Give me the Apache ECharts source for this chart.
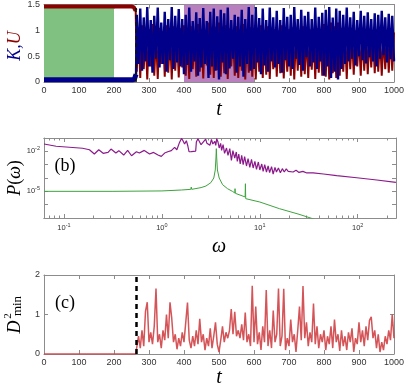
<!DOCTYPE html>
<html>
<head>
<meta charset="utf-8">
<script src="https://cdn.jsdelivr.net/npm/echarts@6/dist/echarts.min.js"></script>
<style>
html, body { margin: 0; padding: 0; background: #fff; }
#chart { width: 407px; height: 388px; }
</style>
</head>
<body>
<div id="chart"></div>
<script>
// ---- data ----
// (a) before the transition: K sits near 0, U near 1.5
var kFlat = [[0, 0.045], [252, 0.045], [258, 0.05], [261, 0.08], [263, 0.15]];
var uFlat = [[0, 1.46], [250, 1.46], [256, 1.45], [260, 1.42], [262, 1.38]];
// (a) after the transition, sampled every 5 time units from t = 265
var tStart = 265, tStep = 5;
var kValues = [
  1.30,0.35,1.42,0.22,1.25,0.40,1.45,0.30,1.20,0.18,
  1.28,0.45,1.44,0.28,1.15,0.35,1.36,0.20,1.22,0.42,
  1.45,0.25,1.28,0.38,1.41,0.30,1.22,
  0.15,1.30,0.33,1.44,0.20,1.18,0.40,1.35,0.12,1.24,
  0.28,1.43,0.35,1.18,0.08,1.36,0.30,1.42,0.22,1.27,
  0.05,1.40,0.38,1.33,0.15,1.44,0.26,1.20,0.45,1.30,
  0.18,1.26,0.30,1.40,0.10,1.22,0.35,1.45,0.22,1.30,
  0.25,1.45,0.38,1.24,0.15,1.42,0.32,1.20,0.20,1.44,
  0.40,1.25,0.28,1.38,0.35,1.20,0.18,1.43,0.42,1.26,
  0.30,1.30,0.25,1.45,0.45,1.22,0.33,1.40,0.22,1.28,
  0.48,1.36,0.30,1.22,0.38,1.44,0.25,1.26,0.40,1.34,
  0.12,1.40,0.30,1.45,0.08,1.25,0.20,1.42,0.05,1.38,
  0.25,1.30,0.35,1.44,0.40,1.25,0.45,1.36,0.32,1.20,
  0.50,1.38,0.42,1.28,0.36,1.35,0.48,1.22,0.40,1.33,
  0.30,1.30,0.45,1.38,0.52,1.25,0.38,1.32,0.44,1.28,
  0.40
];
var uValues = [
  0.20,1.05,0.08,1.10,0.25,0.95,0.05,1.02,0.30,1.12,
  0.12,0.92,0.06,1.05,0.35,0.98,0.10,1.10,0.18,0.95,
  0.05,1.08,0.22,0.96,0.09,1.04,0.28,
  1.10,0.12,1.00,0.06,1.08,0.25,0.94,0.10,1.12,0.20,
  1.02,0.07,0.98,0.32,1.15,0.14,1.03,0.08,1.07,0.23,
  1.15,0.10,0.96,0.17,1.10,0.06,1.04,0.30,0.92,0.12,
  1.08,0.08,1.00,0.22,1.12,0.05,0.98,0.18,1.06,0.10,
  1.05,0.05,0.96,0.20,1.10,0.08,1.00,0.14,1.08,0.06,
  0.95,0.25,1.02,0.10,0.98,0.17,1.10,0.07,0.94,0.20,
  1.02,0.12,1.06,0.05,0.92,0.22,1.00,0.10,1.08,0.15,
  0.90,0.08,1.02,0.24,0.96,0.06,1.05,0.18,0.95,0.12,
  1.12,0.10,1.02,0.05,1.15,0.17,1.08,0.08,1.15,0.12,
  1.05,0.20,0.98,0.06,0.95,0.25,0.92,0.14,1.00,0.30,
  0.90,0.12,0.95,0.22,0.98,0.15,0.90,0.28,0.96,0.17,
  1.02,0.20,0.92,0.12,0.88,0.25,0.98,0.18,0.94,0.22,
  0.96
];
var tTransition = 263;
var greenBox = [[0, 1.5], [200, 1.5]];
var purpleBox = [[400, 1.5], [600, 1.5]];

// (b) power spectra, read as log10(omega), log10(P)
var purpleLogW = [-1.204,-1.08,-0.81,-0.74,-0.69,-0.645,-0.60,-0.55,-0.52,-0.47,-0.44,-0.39,-0.35,-0.31,-0.26,-0.23,-0.18,-0.126,-0.085,-0.04,
  -0.006,0.028,0.06,0.096,0.13,0.153,0.18,0.20,0.215,0.232,0.25,0.265,0.277,0.30,0.317,0.345,0.352,0.368,0.386,0.40,
  0.42,0.447,0.46,0.47,0.49,0.506,0.52,0.54,0.55,0.56,0.573,0.585,0.60,0.61,0.625,0.64,0.66,0.675,0.693,0.71,
  0.725,0.744,0.76,0.77,0.785,0.80,0.815,0.83,0.845,0.864,0.88,0.898,0.915,0.932,0.95,0.966,0.985,1.00,1.02,1.034,
  1.05,1.068,1.085,1.10,1.12,1.136,1.155,1.17,1.19,1.21,1.23,1.25,1.27,1.29,1.31,1.34,1.37,1.40,1.44,1.48,
  1.545,1.65,1.785,1.99,2.195,2.39];
var purpleLogP = [-1.45,-1.62,-1.77,-1.88,-2.20,-1.88,-2.15,-2.08,-1.83,-2.13,-1.95,-2.28,-1.93,-2.33,-2.03,-2.13,-1.93,-2.20,-2.08,-2.28,
  -2.38,-2.13,-2.03,-1.95,-1.70,-1.88,-1.33,-1.03,-1.20,-1.45,-1.20,-1.60,-2.03,-2.02,-2.08,-1.98,-1.30,-1.05,-1.20,-1.50,
  -1.35,-1.08,-1.40,-1.25,-1.55,-1.10,-1.45,-1.25,-1.55,-1.05,-1.30,-1.75,-1.40,-1.93,-1.50,-2.15,-1.75,-2.30,-1.80,-2.68,
  -1.95,-2.50,-2.05,-2.75,-2.20,-2.95,-2.30,-3.00,-2.40,-3.10,-2.55,-3.20,-2.60,-3.25,-2.75,-3.35,-2.80,-3.40,-2.95,-3.50,
  -3.00,-3.55,-3.10,-3.60,-3.15,-3.70,-3.20,-3.55,-3.25,-3.60,-3.30,-3.55,-3.32,-3.50,-3.35,-3.55,-3.42,-3.58,-3.50,-3.62,
  -3.62,-3.70,-3.82,-3.98,-4.15,-4.33];
var greenLogW = [-1.204,-0.5,0,0.2,0.295,0.30,0.305,0.40,0.45,0.50,0.53,0.545,0.552,0.556,0.56,0.567,0.585,0.62,0.67,0.72,
  0.745,0.747,0.75,0.85,0.853,0.856,0.86,1.0,1.2,1.4,1.56];
var greenLogP = [-5.0,-5.0,-4.97,-4.9,-4.85,-4.68,-4.85,-4.72,-4.6,-4.35,-4.0,-3.4,-2.5,-1.8,-2.5,-3.4,-4.0,-4.5,-4.8,-5.0,
  -5.12,-4.8,-5.15,-5.42,-4.43,-5.55,-5.47,-5.8,-6.3,-6.72,-7.1];
var omegaMajor = [0.1, 1, 10, 100];
var omegaMinor = [0.07,0.08,0.09,0.2,0.3,0.4,0.5,0.6,0.7,0.8,0.9,2,3,4,5,6,7,8,9,20,30,40,50,60,70,80,90,200];
var pTicks = [1e-7, 1e-6, 1e-5, 1e-4, 1e-3, 1e-2, 1e-1];
var pLabels = [1e-5, 1e-2];

// (c) D2min, zero until the transition, then sampled like (a)
var dFlat = [[0, 0], [262, 0]];
var dValues = [
  0.05,0.45,0.15,0.60,0.20,1.08,1.31,0.30,0.55,0.25,
  0.70,1.66,0.30,0.50,0.15,0.60,0.35,1.00,0.40,1.31,
  0.90,0.30,0.50,0.12,0.40,0.20,0.55,
  0.30,0.80,1.30,0.35,0.15,0.45,0.20,0.60,0.25,0.89,
  0.30,0.50,0.10,0.40,0.20,0.65,0.15,0.45,0.80,0.25,
  0.05,0.35,0.70,0.30,0.55,0.40,0.60,1.14,0.50,1.07,
  0.45,0.60,0.40,0.75,0.35,1.05,0.30,0.50,0.20,1.73,
  0.30,1.20,0.25,0.55,0.10,0.70,0.30,1.62,0.20,0.60,
  0.15,1.10,0.30,0.50,1.66,0.20,0.45,1.65,0.10,0.40,
  0.20,0.87,0.30,0.50,0.05,0.60,1.20,0.35,1.72,0.40,
  0.80,0.20,0.55,0.30,1.28,0.25,0.70,0.15,0.50,0.30,
  0.60,0.10,0.45,0.25,0.70,0.15,0.87,0.30,0.50,0.08,
  0.60,0.20,0.45,0.10,0.55,0.30,0.65,0.05,0.40,0.25,
  0.80,0.30,0.60,0.20,0.70,0.35,0.85,0.94,0.40,0.60,
  0.15,0.50,0.05,0.30,0.10,0.45,0.25,0.60,0.35,1.00,
  0.40
];

// ---- build series data ----
function sampled(vals) {
  return vals.map(function (v, i) { return [tStart + i * tStep, v]; });
}
function fromLogs(lw, lp) {
  return lw.map(function (w, i) { return [Math.pow(10, w), Math.pow(10, lp[i])]; });
}

var gray = '#8c8c8c';
var labelColor = '#333';
var serif = '"Liberation Serif", "DejaVu Serif", serif';
var sans = '"Liberation Sans", Arial, sans-serif';

function plain(v) { return String(v); }

function linX(grid, pos, showLabel) {
  return {
    type: 'value', gridIndex: grid, position: pos, min: 0, max: 1000, interval: 100,
    axisLine: { show: true, onZero: false, lineStyle: { color: gray, width: 1 } },
    axisTick: { show: true, inside: true, length: 4, lineStyle: { color: gray } },
    axisLabel: { show: showLabel, fontSize: 9, color: labelColor, margin: 4, fontFamily: sans, formatter: plain },
    splitLine: { show: false }
  };
}
function linY(grid, pos, max, interval, showLabel) {
  return {
    type: 'value', gridIndex: grid, position: pos, min: 0, max: max, interval: interval,
    axisLine: { show: true, onZero: false, lineStyle: { color: gray, width: 1 } },
    axisTick: { show: true, inside: true, length: 4, lineStyle: { color: gray } },
    axisLabel: { show: showLabel, fontSize: 9, color: labelColor, margin: 4, fontFamily: sans, formatter: plain },
    splitLine: { show: false }
  };
}
var powRich = {
  b: { fontSize: 7.5, color: labelColor, fontFamily: sans },
  s: { fontSize: 5.5, color: labelColor, fontFamily: sans, padding: [0, 0, 6, 0] }
};
function powLabel(v) {
  return '{b|10}{s|' + Math.round(Math.log10(v)) + '}';
}
function logX(pos, ticks, len, labels) {
  return {
    type: 'log', logBase: 10, gridIndex: 1, position: pos, min: 0.0625, max: 246,
    axisLine: { show: true, onZero: false, lineStyle: { color: gray, width: 1 } },
    axisTick: { show: true, inside: true, length: len, customValues: ticks, lineStyle: { color: gray } },
    axisLabel: labels ? { show: true, customValues: labels, formatter: powLabel, rich: powRich, margin: 4 } : { show: false },
    splitLine: { show: false }
  };
}
function logY(pos, labels) {
  return {
    type: 'log', logBase: 10, gridIndex: 1, position: pos, min: 1e-7, max: 1e-1,
    axisLine: { show: true, onZero: false, lineStyle: { color: gray, width: 1 } },
    axisTick: { show: true, inside: true, length: 4, customValues: pTicks, lineStyle: { color: gray } },
    axisLabel: labels ? { show: true, customValues: labels, formatter: powLabel, rich: powRich, margin: 4 } : { show: false },
    splitLine: { show: false }
  };
}
function box(data, color) {
  return { type: 'line', xAxisIndex: 0, yAxisIndex: 0, z: 1, data: data, showSymbol: false, silent: true,
    lineStyle: { width: 0 }, areaStyle: { color: color, opacity: 1 } };
}

var chart = echarts.init(document.getElementById('chart'), null, { renderer: 'canvas' });

var option = {
  animation: false,
  backgroundColor: '#fff',
  grid: [
    { left: 44, top: 2, width: 352, height: 80 },
    { left: 44, top: 138, width: 352, height: 80 },
    { left: 44, top: 275, width: 352, height: 79 }
  ],
  xAxis: [
    linX(0, 'bottom', true), linX(0, 'top', false),
    logX('bottom', omegaMajor, 4, omegaMajor), logX('bottom', omegaMinor, 2.5, null),
    logX('top', omegaMajor, 4, null), logX('top', omegaMinor, 2.5, null),
    linX(2, 'bottom', true), linX(2, 'top', false)
  ],
  yAxis: [
    linY(0, 'left', 1.5, 0.5, true), linY(0, 'right', 1.5, 0.5, false),
    logY('left', pLabels), logY('right', null),
    linY(2, 'left', 2, 1, true), linY(2, 'right', 2, 1, false)
  ],
  series: [
    // shaded windows in (a)
    box(greenBox, '#80c080'),
    box(purpleBox, '#b980c0'),
    { name: 'U0', type: 'line', xAxisIndex: 0, yAxisIndex: 0, z: 2, data: uFlat, showSymbol: false,
      lineStyle: { color: '#8b0000', width: 4 } },
    { name: 'K0', type: 'line', xAxisIndex: 0, yAxisIndex: 0, z: 2, data: kFlat, showSymbol: false,
      lineStyle: { color: '#00008b', width: 5 } },
    { name: 'U', type: 'line', xAxisIndex: 0, yAxisIndex: 0, z: 3, data: [[262, 1.38]].concat(sampled(uValues)), showSymbol: false,
      lineStyle: { color: '#8b0000', width: 2 } },
    { name: 'K', type: 'line', xAxisIndex: 0, yAxisIndex: 0, z: 4, data: [[263, 0.15]].concat(sampled(kValues)), showSymbol: false,
      lineStyle: { color: '#00008b', width: 2.4 },
      markLine: { silent: true, symbol: 'none', label: { show: false },
        lineStyle: { color: '#111', width: 1.6, type: [4, 3] }, data: [{ xAxis: tTransition }] } },
    // (b)
    { name: 'purple', type: 'line', xAxisIndex: 2, yAxisIndex: 2, data: fromLogs(purpleLogW, purpleLogP), showSymbol: false,
      lineStyle: { color: '#8b1a8b', width: 1.2 } },
    { name: 'green', type: 'line', xAxisIndex: 2, yAxisIndex: 2, data: fromLogs(greenLogW, greenLogP), showSymbol: false,
      lineStyle: { color: '#3ea23e', width: 1 } },
    // (c)
    { name: 'D2', type: 'line', xAxisIndex: 6, yAxisIndex: 4, data: dFlat.concat(sampled(dValues)), showSymbol: false,
      lineStyle: { color: '#cf4146', width: 1.5, opacity: 0.9 },
      markLine: { silent: true, symbol: 'none', label: { show: false },
        lineStyle: { color: '#000', width: 2.5, type: [5, 4] }, data: [{ xAxis: tTransition }] } }
  ],
  graphic: [
    { type: 'text', x: 65, y: 31, style: { text: '(a)', font: '18px ' + serif, fill: '#000', align: 'center', verticalAlign: 'middle' } },
    { type: 'text', x: 65, y: 166, style: { text: '(b)', font: '18px ' + serif, fill: '#000', align: 'center', verticalAlign: 'middle' } },
    { type: 'text', x: 65, y: 303, style: { text: '(c)', font: '18px ' + serif, fill: '#000', align: 'center', verticalAlign: 'middle' } },
    { type: 'text', x: 219, y: 110, style: { text: 't', font: 'italic 20px ' + serif, fill: '#000', align: 'center', verticalAlign: 'middle' } },
    { type: 'text', x: 219, y: 247, style: { text: 'ω', font: 'italic 20px ' + serif, fill: '#000', align: 'center', verticalAlign: 'middle' } },
    { type: 'text', x: 219, y: 378, style: { text: 't', font: 'italic 20px ' + serif, fill: '#000', align: 'center', verticalAlign: 'middle' } },
    { type: 'text', x: 15, y: 46, rotation: Math.PI / 2,
      style: { text: '{k|K,}{u|U}', font: 'italic 18px ' + serif, fill: '#000', align: 'center', verticalAlign: 'middle',
        rich: { k: { fill: '#00008b', fontStyle: 'italic', fontSize: 18, fontFamily: serif },
                u: { fill: '#8b0000', fontStyle: 'italic', fontSize: 18, fontFamily: serif } } } },
    { type: 'text', x: 15, y: 178, rotation: Math.PI / 2,
      style: { text: '{i|P}{r|(}{i|ω}{r|)}', font: '18px ' + serif, fill: '#000', align: 'center', verticalAlign: 'middle',
        rich: { i: { fontStyle: 'italic', fontSize: 18, fontFamily: serif, fill: '#000' },
                r: { fontSize: 18, fontFamily: serif, fill: '#000' } } } },
    { type: 'group', x: 15, y: 315, rotation: Math.PI / 2, children: [
      { type: 'text', x: -12, y: 0, style: { text: 'D', font: 'italic 18px ' + serif, fill: '#000', align: 'center', verticalAlign: 'middle' } },
      { type: 'text', x: -1, y: -7, style: { text: '2', font: '11px ' + serif, fill: '#000', align: 'center', verticalAlign: 'middle' } },
      { type: 'text', x: 9, y: 3, style: { text: 'min', font: '13px ' + serif, fill: '#000', align: 'center', verticalAlign: 'middle' } }
    ] }
  ]
};
chart.setOption(option);
</script>
</body>
</html>
